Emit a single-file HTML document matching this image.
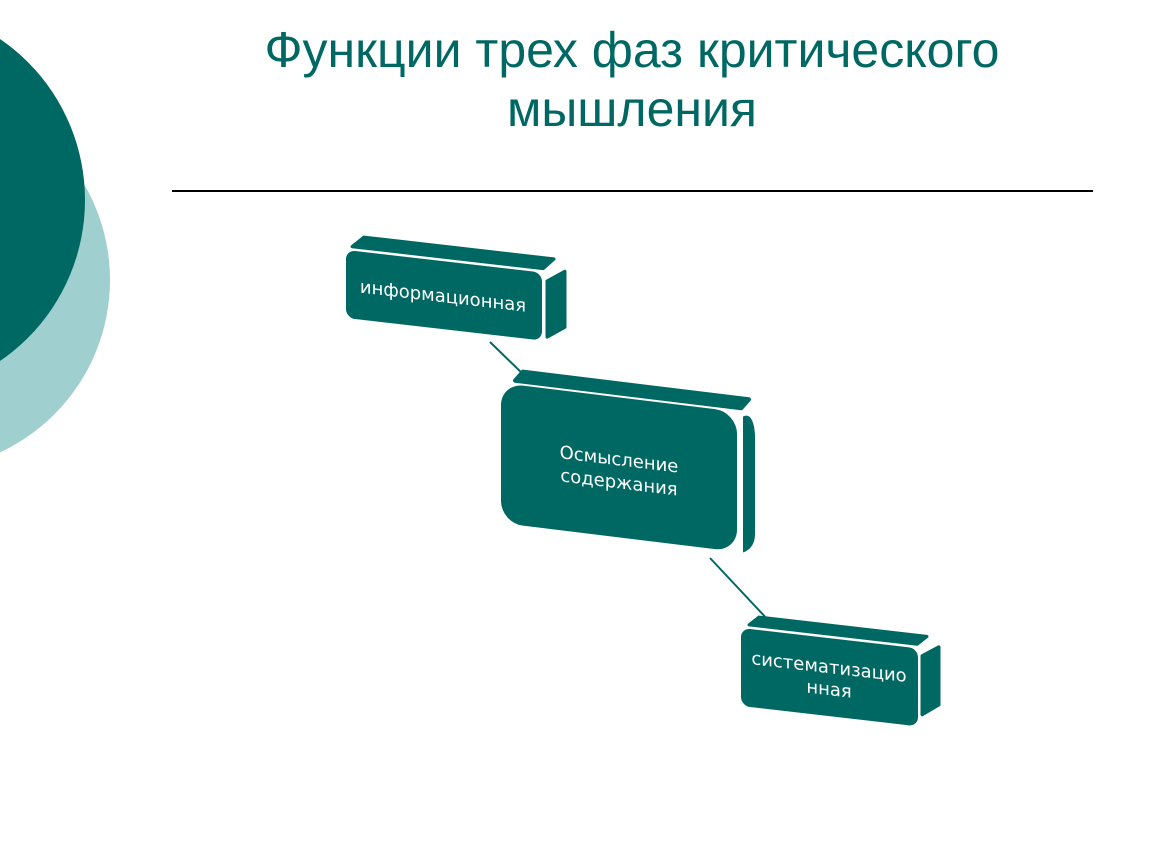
<!DOCTYPE html>
<html><head><meta charset="utf-8"><style>
html,body{margin:0;padding:0;background:#fff;}
svg{display:block;}
</style></head><body>
<svg width="1150" height="864" viewBox="0 0 1150 864" xmlns="http://www.w3.org/2000/svg">
<circle cx="-80" cy="280" r="190" fill="#9fd0cf"/>
<circle cx="-110" cy="200" r="195" fill="#006863"/>
<g font-family="Liberation Sans, sans-serif" fill="#006863" font-size="50" text-anchor="middle">
<text x="632" y="67">Функции трех фаз критического</text>
<text x="632" y="126">мышления</text>
</g>
<line x1="172" y1="191" x2="1093" y2="191" stroke="#000" stroke-width="2"/>
<line x1="490" y1="342" x2="527" y2="378" stroke="#006863" stroke-width="2"/>
<line x1="710" y1="558" x2="770" y2="622" stroke="#006863" stroke-width="2"/>
<g font-family="DejaVu Sans, sans-serif" fill="#fff" text-anchor="middle">
<g transform="matrix(1,0.115,0,1,346,250)">
<polygon points="6,-4 18,-15 208,-15 197,-4" fill="#006863" stroke="#006863" stroke-width="3" stroke-linejoin="round"/>
<polygon points="201,8 219,-4 219,52 201,64" fill="#006863" stroke="#006863" stroke-width="3" stroke-linejoin="round"/>
<rect x="0" y="0" width="196" height="68" rx="9" fill="#006863"/>
<text x="97" y="41" font-size="18">информационная</text>
</g>
<g transform="matrix(1,0.122,0,1,501,383)">
<polygon points="14,-4 22,-14 248,-14 240,-4" fill="#006863" stroke="#006863" stroke-width="4" stroke-linejoin="round"/>
<path d="M242,4 Q252,-2 254,20 L254,120 Q254,134 242,140 Z" fill="#006863"/>
<rect x="0" y="0" width="236" height="140" rx="22" fill="#006863"/>
<text x="118" y="68" font-size="18">Осмысление</text>
<text x="118" y="91" font-size="18">содержания</text>
</g>
<g transform="matrix(1,0.115,0,1,741,628)">
<polygon points="8,-4 18,-13 186,-13 176,-4" fill="#006863" stroke="#006863" stroke-width="3" stroke-linejoin="round"/>
<polygon points="181,7 198,-4 198,54 181,66" fill="#006863" stroke="#006863" stroke-width="3" stroke-linejoin="round"/>
<rect x="0" y="0" width="177" height="78" rx="9" fill="#006863"/>
<text x="88" y="35" font-size="18">систематизацио</text>
<text x="88" y="57" font-size="18">нная</text>
</g>
</g>
</svg>
</body></html>
